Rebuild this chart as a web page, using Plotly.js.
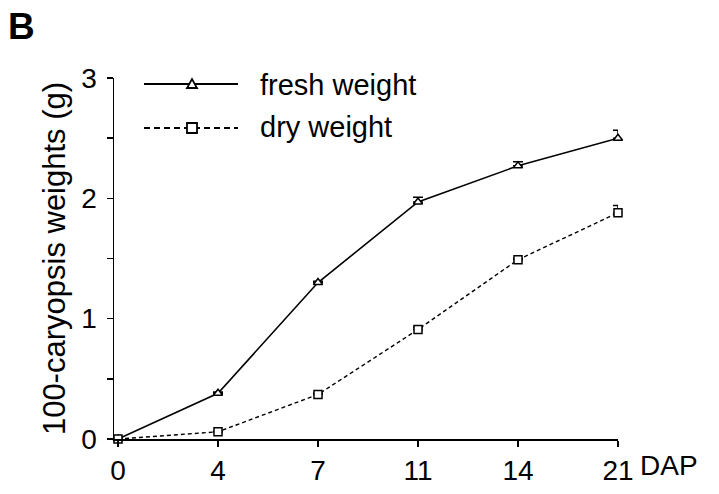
<!DOCTYPE html>
<html>
<head>
<meta charset="utf-8">
<script src="https://cdn.plot.ly/plotly-3.0.1.min.js"></script>
<style>html,body{margin:0;padding:0;background:#fff;}#chart{width:719px;height:494px;}</style>
</head>
<body>
<div id="chart"></div>
<script>
var days = ["0", "4", "7", "11", "14", "21"];
var freshWeight = [0, 0.38, 1.30, 1.97, 2.27, 2.50];
var freshErr = [0, 0.01, 0.01, 0.04, 0.035, 0.065];
var dryWeight = [0, 0.06, 0.37, 0.91, 1.49, 1.88];
var dryErr = [0, 0.005, 0.01, 0.02, 0.01, 0.06];
var seriesNames = ["fresh weight", "dry weight"];
var yTicks = [0, 1, 2, 3];

var FONT = "Liberation Sans, Arial, sans-serif";
var xIdx = days.map(function(d, i){ return i; });

var traces = [
  {
    x: xIdx, y: freshWeight, type: "scatter", mode: "lines+markers", name: seriesNames[0],
    line: {color: "#000", width: 1.6},
    marker: {symbol: "triangle-up", size: 8, color: "#fff", line: {color: "#000", width: 1.5}},
    error_y: {type: "data", symmetric: false, array: freshErr, arrayminus: freshErr.map(function(){return 0;}), color: "#000", thickness: 1.5, width: 5},
    cliponaxis: false, showlegend: false
  },
  {
    x: xIdx, y: dryWeight, type: "scatter", mode: "lines+markers", name: seriesNames[1],
    line: {color: "#000", width: 1.4, dash: "4px,3px"},
    marker: {symbol: "square", size: 8, color: "#fff", line: {color: "#000", width: 1.5}},
    error_y: {type: "data", symmetric: false, array: dryErr, arrayminus: dryErr.map(function(){return 0;}), color: "#000", thickness: 1.5, width: 5},
    cliponaxis: false, showlegend: false
  }
];

function py(p){ return (439 - p) / 361; }
function px(p){ return (p - 114) / 504; }

var shapes = [
  {type: "line", xref: "paper", yref: "paper", x0: px(144), x1: px(238), y0: py(84), y1: py(84), line: {color: "#000", width: 2}},
  {type: "line", xref: "paper", yref: "paper", x0: px(144), x1: px(238), y0: py(128), y1: py(128), line: {color: "#000", width: 2, dash: "6px,4px"}},
  {type: "path", xref: "paper", yref: "paper", xsizemode: "pixel", ysizemode: "pixel", xanchor: px(192), yanchor: py(84),
   path: "M-5,-4 L5,-4 L0,5 Z", fillcolor: "#fff", line: {color: "#000", width: 1.8}},
  {type: "rect", xref: "paper", yref: "paper", xsizemode: "pixel", ysizemode: "pixel", xanchor: px(192), yanchor: py(128),
   x0: -5, x1: 5, y0: -5, y1: 5, fillcolor: "#fff", line: {color: "#000", width: 1.8}}
];

var annotations = [
  {xref: "paper", yref: "paper", x: px(258), y: py(85), xanchor: "left", yanchor: "middle", text: seriesNames[0], showarrow: false, font: {family: FONT, size: 29, color: "#000"}},
  {xref: "paper", yref: "paper", x: px(258), y: py(127), xanchor: "left", yanchor: "middle", text: seriesNames[1], showarrow: false, font: {family: FONT, size: 29, color: "#000"}},
  {xref: "paper", yref: "paper", x: px(6), y: py(26), xanchor: "left", yanchor: "middle", text: "<b>B</b>", showarrow: false, font: {family: FONT, size: 37, color: "#000"}},
  {xref: "x", yref: "paper", x: 5, y: 0, xanchor: "left", yanchor: "top", xshift: 20, yshift: -9, text: "DAP", showarrow: false, font: {family: FONT, size: 28, color: "#000"}}
];

var layout = {
  width: 719, height: 494,
  margin: {l: 114, r: 101, t: 78, b: 55, pad: 0},
  paper_bgcolor: "#fff", plot_bgcolor: "#fff",
  font: {family: FONT, color: "#000"},
  showlegend: false,
  xaxis: {
    range: [-0.04, 5], tickmode: "array", tickvals: xIdx, ticktext: days,
    showgrid: false, zeroline: false, showline: true, linecolor: "#000", linewidth: 1.5,
    ticks: "outside", ticklen: 6, tickwidth: 1.5, tickcolor: "#000",
    tickfont: {family: FONT, size: 28, color: "#000"}
  },
  yaxis: {
    range: [0, 3], tickmode: "array", tickvals: yTicks, ticktext: yTicks.map(String),
    showgrid: false, zeroline: false, showline: true, linecolor: "#000", linewidth: 1.5,
    ticks: "outside", ticklen: 6, tickwidth: 1.5, tickcolor: "#000",
    minor: {dtick: 0.5, tick0: 0, ticks: "outside", ticklen: 6, tickwidth: 1.5, tickcolor: "#000", showgrid: false},
    tickfont: {family: FONT, size: 28, color: "#000"},
    ticklabelstandoff: 4,
    title: {text: "100-caryopsis weights (g)", font: {family: FONT, size: 31, color: "#000"}, standoff: 6}
  },
  shapes: shapes,
  annotations: annotations
};

Plotly.newPlot("chart", traces, layout, {staticPlot: true, displayModeBar: false});
</script>
</body>
</html>
